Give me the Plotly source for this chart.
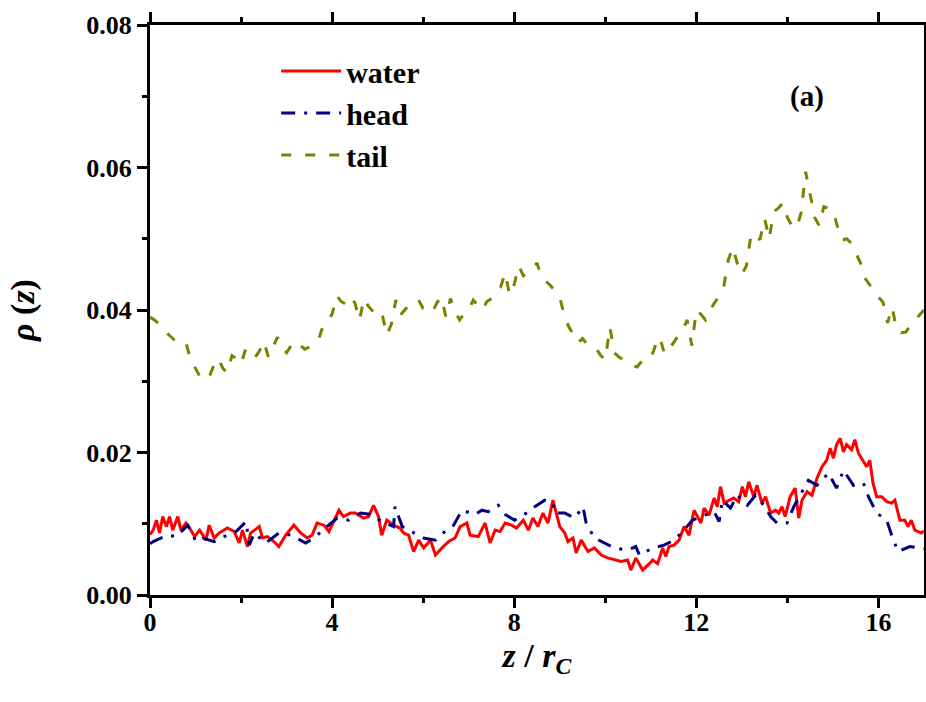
import plotly.graph_objects as go

# ---------------- data ----------------
water_z = [0.00, 0.07, 0.14, 0.21, 0.28, 0.36, 0.43, 0.50, 0.61, 0.68, 0.79, 0.87, 0.98, 1.09, 1.23, 1.30,
           1.41, 1.52, 1.70, 1.85, 1.96, 2.03, 2.14, 2.21, 2.40, 2.47, 2.58, 2.72, 2.83, 2.98, 3.16, 3.31,
           3.45, 3.56, 3.67, 3.82, 3.93, 4.04, 4.15, 4.25, 4.40, 4.51, 4.69, 4.80, 4.91, 5.02, 5.09, 5.20,
           5.35, 5.49, 5.57, 5.68, 5.79, 5.90, 6.01, 6.16, 6.27, 6.41, 6.56, 6.70, 6.81, 6.96, 7.03, 7.21,
           7.36, 7.47, 7.58, 7.69, 7.80, 7.94, 8.05, 8.20, 8.31, 8.41, 8.52, 8.63, 8.74, 8.85, 8.93, 9.00,
           9.11, 9.18, 9.29, 9.36, 9.47, 9.62, 9.76, 9.91, 10.05, 10.20, 10.35, 10.49, 10.56, 10.67, 10.82,
           10.97, 11.04, 11.15, 11.26, 11.33, 11.40, 11.51, 11.62, 11.73, 11.84, 11.95, 12.02, 12.10, 12.17,
           12.28, 12.39, 12.46, 12.53, 12.61, 12.72, 12.82, 12.93, 13.01, 13.08, 13.15, 13.26, 13.33, 13.44,
           13.52, 13.63, 13.74, 13.81, 13.88, 13.95, 14.06, 14.17, 14.25, 14.32, 14.43, 14.54, 14.65, 14.76,
           14.86, 14.94, 15.01, 15.08, 15.16, 15.23, 15.30, 15.41, 15.48, 15.56, 15.67, 15.74, 15.81, 15.88,
           15.96, 16.07, 16.18, 16.29, 16.36, 16.47, 16.58, 16.65, 16.72, 16.80, 16.87, 16.94, 17.00]
water_rho = [0.0085, 0.0091, 0.0105, 0.0087, 0.0110, 0.0096, 0.0110, 0.0091, 0.0110, 0.0091, 0.0101, 0.0094,
             0.0082, 0.0091, 0.0077, 0.0098, 0.0080, 0.0087, 0.0094, 0.0089, 0.0073, 0.0091, 0.0068, 0.0087,
             0.0096, 0.0080, 0.0082, 0.0075, 0.0068, 0.0084, 0.0098, 0.0087, 0.0080, 0.0084, 0.0101, 0.0098,
             0.0089, 0.0105, 0.0119, 0.0110, 0.0115, 0.0115, 0.0108, 0.0110, 0.0126, 0.0110, 0.0084, 0.0105,
             0.0098, 0.0094, 0.0087, 0.0084, 0.0061, 0.0077, 0.0066, 0.0077, 0.0056, 0.0066, 0.0075, 0.0080,
             0.0096, 0.0101, 0.0084, 0.0082, 0.0101, 0.0073, 0.0091, 0.0089, 0.0101, 0.0098, 0.0094, 0.0105,
             0.0091, 0.0108, 0.0096, 0.0115, 0.0101, 0.0133, 0.0115, 0.0096, 0.0087, 0.0075, 0.0080, 0.0059,
             0.0077, 0.0061, 0.0066, 0.0056, 0.0052, 0.0049, 0.0047, 0.0049, 0.0035, 0.0052, 0.0035, 0.0044,
             0.0049, 0.0044, 0.0066, 0.0054, 0.0068, 0.0070, 0.0077, 0.0096, 0.0084, 0.0119, 0.0110, 0.0101,
             0.0122, 0.0112, 0.0136, 0.0124, 0.0152, 0.0129, 0.0133, 0.0136, 0.0131, 0.0152, 0.0138, 0.0159,
             0.0138, 0.0154, 0.0129, 0.0138, 0.0115, 0.0119, 0.0115, 0.0124, 0.0110, 0.0138, 0.0150, 0.0108,
             0.0133, 0.0145, 0.0140, 0.0164, 0.0180, 0.0189, 0.0206, 0.0192, 0.0211, 0.0220, 0.0201, 0.0211,
             0.0204, 0.0218, 0.0199, 0.0187, 0.0180, 0.0189, 0.0157, 0.0138, 0.0138, 0.0131, 0.0129, 0.0133,
             0.0105, 0.0105, 0.0096, 0.0105, 0.0091, 0.0089, 0.0087, 0.0090]

head_z = [0.00, 0.07, 0.39, 0.58, 0.83, 1.01, 1.16, 1.41, 1.63, 1.89, 2.11, 2.18, 2.29, 2.54, 2.83, 3.09,
          3.42, 3.64, 3.85, 4.11, 4.36, 4.62, 4.87, 5.09, 5.35, 5.38, 5.54, 5.76, 6.01, 6.27, 6.56, 6.67,
          6.85, 7.14, 7.29, 7.43, 7.65, 7.80, 8.01, 8.27, 8.45, 8.67, 8.85, 8.89, 9.11, 9.33, 9.51, 9.58,
          9.76, 9.98, 10.20, 10.49, 10.67, 10.75, 11.04, 11.29, 11.51, 11.73, 11.91, 12.10, 12.39, 12.50,
          12.57, 12.75, 12.90, 13.12, 13.30, 13.48, 13.63, 13.77, 13.99, 14.14, 14.28, 14.46, 14.65, 14.90,
          15.08, 15.23, 15.45, 15.67, 15.78, 15.96, 16.18, 16.29, 16.43, 16.69, 16.94, 17.00]
head_rho = [0.0072, 0.0075, 0.0084, 0.0082, 0.0098, 0.0075, 0.0080, 0.0075, 0.0082, 0.0089, 0.0103, 0.0070,
            0.0087, 0.0073, 0.0087, 0.0084, 0.0073, 0.0082, 0.0094, 0.0108, 0.0105, 0.0115, 0.0113, 0.0103,
            0.0096, 0.0124, 0.0096, 0.0089, 0.0080, 0.0077, 0.0094, 0.0098, 0.0119, 0.0113, 0.0119, 0.0117,
            0.0126, 0.0113, 0.0105, 0.0115, 0.0124, 0.0133, 0.0129, 0.0115, 0.0115, 0.0108, 0.0124, 0.0101,
            0.0080, 0.0073, 0.0066, 0.0063, 0.0068, 0.0056, 0.0066, 0.0070, 0.0077, 0.0091, 0.0105, 0.0110,
            0.0117, 0.0103, 0.0133, 0.0122, 0.0140, 0.0126, 0.0140, 0.0126, 0.0110, 0.0101, 0.0101, 0.0124,
            0.0140, 0.0161, 0.0154, 0.0171, 0.0150, 0.0175, 0.0154, 0.0157, 0.0138, 0.0115, 0.0105, 0.0084,
            0.0061, 0.0068, 0.0066, 0.0065]

tail_z = [round(0.1 * i, 1) for i in range(171)]
tail_rho = [0.0390, 0.0386, 0.0380, 0.0372, 0.0366, 0.0360, 0.0354, 0.0356, 0.0352, 0.0328,
            0.0318, 0.0306, 0.0302, 0.0306, 0.0322, 0.0332, 0.0318, 0.0312, 0.0336, 0.0332,
            0.0324, 0.0345, 0.0340, 0.0333, 0.0342, 0.0356, 0.0334, 0.0348, 0.0362, 0.0348,
            0.0340, 0.0350, 0.0356, 0.0350, 0.0345, 0.0348, 0.0352, 0.0358, 0.0378, 0.0386,
            0.0394, 0.0420, 0.0412, 0.0408, 0.0418, 0.0410, 0.0386, 0.0416, 0.0405, 0.0398,
            0.0390, 0.0394, 0.0365, 0.0380, 0.0414, 0.0393, 0.0400, 0.0408, 0.0412, 0.0414,
            0.0402, 0.0398, 0.0396, 0.0410, 0.0418, 0.0390, 0.0416, 0.0398, 0.0386, 0.0395,
            0.0400, 0.0414, 0.0406, 0.0400, 0.0412, 0.0416, 0.0425, 0.0432, 0.0452, 0.0421,
            0.0436, 0.0462, 0.0448, 0.0453, 0.0457, 0.0466, 0.0446, 0.0440, 0.0434, 0.0426,
            0.0418, 0.0392, 0.0376, 0.0366, 0.0354, 0.0360, 0.0352, 0.0348, 0.0346, 0.0336,
            0.0330, 0.0376, 0.0340, 0.0334, 0.0330, 0.0326, 0.0322, 0.0320, 0.0328, 0.0330,
            0.0332, 0.0350, 0.0362, 0.0338, 0.0346, 0.0354, 0.0364, 0.0372, 0.0386, 0.0350,
            0.0400, 0.0394, 0.0386, 0.0400, 0.0410, 0.0420, 0.0432, 0.0470, 0.0488, 0.0465,
            0.0450, 0.0462, 0.0506, 0.0498, 0.0500, 0.0528, 0.0500, 0.0538, 0.0543, 0.0550,
            0.0530, 0.0518, 0.0515, 0.0536, 0.0594, 0.0560, 0.0530, 0.0518, 0.0545, 0.0543,
            0.0540, 0.0517, 0.0498, 0.0500, 0.0494, 0.0480, 0.0467, 0.0445, 0.0436, 0.0428,
            0.0418, 0.0411, 0.0382, 0.0404, 0.0372, 0.0368, 0.0369, 0.0378, 0.0386, 0.0393,
            0.0400]

x_ticks = [0, 4, 8, 12, 16]
y_ticks = [0.00, 0.02, 0.04, 0.06, 0.08]

FONT = "Liberation Serif"

fig = go.Figure()
fig.add_trace(go.Scatter(x=water_z, y=water_rho, mode="lines", name="<b>water</b>",
                         line=dict(color="#FF0000", width=3)))
fig.add_trace(go.Scatter(x=head_z, y=head_rho, mode="lines", name="<b>head</b>",
                         line=dict(color="#000080", width=3, dash="14px,9px,3px,9px")))
fig.add_trace(go.Scatter(x=tail_z, y=tail_rho, mode="lines", name="<b>tail</b>",
                         line=dict(color="#808000", width=3, dash="10px,14px")))

axis_common = dict(
    showgrid=False, zeroline=False, showline=True, linecolor="black", linewidth=3,
    mirror="allticks", ticks="outside", ticklen=10, tickwidth=2.5, tickcolor="black",
    tickfont=dict(family=FONT, size=26, color="black"), automargin=False,
)

fig.update_xaxes(
    range=[0, 17], tickvals=x_ticks, ticktext=[f"<b>{v}</b>" for v in x_ticks],
    minor=dict(dtick=2, tick0=0, ticks="outside", ticklen=5, tickwidth=2.5, tickcolor="black"),
    ticklabelstandoff=-8,
    title=dict(text="<b><i>z</i> / <i>r<sub>C</sub></i></b>",
               font=dict(family=FONT, size=34, color="black"), standoff=4),
    **axis_common,
)
fig.update_yaxes(
    range=[0, 0.08], tickvals=y_ticks, ticktext=[f"<b>{v:.2f}</b>" for v in y_ticks],
    minor=dict(dtick=0.01, tick0=0, ticks="outside", ticklen=5, tickwidth=2.5, tickcolor="black"),
    title=dict(text="<b><i>ρ</i> (<i>z</i>)</b>",
               font=dict(family=FONT, size=34, color="black"), standoff=42),
    **axis_common,
)

fig.update_layout(
    width=926, height=702, autosize=False,
    margin=dict(l=150, r=2, t=25, b=107),
    plot_bgcolor="white", paper_bgcolor="white",
    font=dict(family=FONT, color="black"),
    legend=dict(x=0.163, y=0.965, xanchor="left", yanchor="top",
                bgcolor="rgba(0,0,0,0)", borderwidth=0,
                font=dict(family=FONT, size=30, color="black"),
                itemwidth=60, tracegroupgap=0),
    annotations=[dict(x=0.849, y=0.874, xref="paper", yref="paper",
                      xanchor="center", yanchor="middle",
                      text="<b>(a)</b>", showarrow=False,
                      font=dict(family=FONT, size=29, color="black"))],
)

fig.write_html("out.html")
